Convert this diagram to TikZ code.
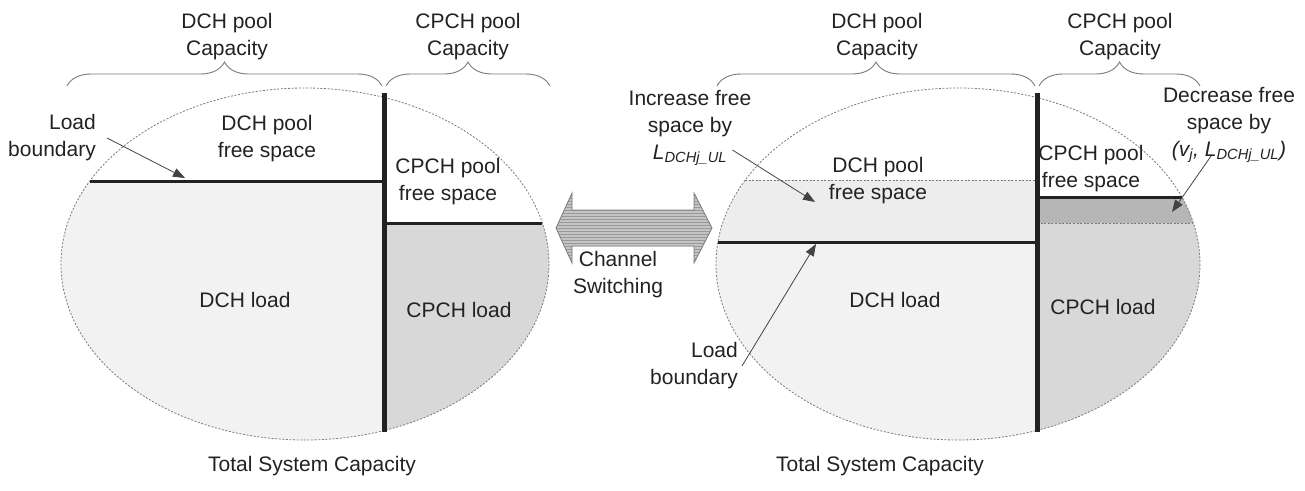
\documentclass[tikz,border=0pt]{standalone}
\usepackage{fontspec}
\setmainfont{Liberation Sans}
\usepackage{tikz}
\usetikzlibrary{arrows.meta,decorations.pathreplacing,patterns}
\definecolor{ink}   {HTML}{222222}
\definecolor{rim}   {HTML}{7A7A7A}
\definecolor{loadlt}{HTML}{F2F2F2}
\definecolor{loadmd}{HTML}{D8D8D8}
\definecolor{band}  {HTML}{B6B6B6}
\definecolor{gain}  {HTML}{EDEDED}
\definecolor{shaft} {HTML}{C4C4C4}

\begin{document}
\begin{tikzpicture}[x=1pt,y=-1pt,font=\fontsize{21}{27}\selectfont,
  lbl/.style={align=center,text=ink,inner sep=1pt},
  edge/.style={draw=rim,line width=0.8pt,dash pattern=on 2pt off 1.6pt},
  wall/.style={draw=ink,line width=5pt},
  bound/.style={draw=ink,line width=3pt},
  curly/.style={draw=rim,line width=0.9pt,decorate,
                decoration={brace,amplitude=24pt}},
  ptr/.style={draw=ink!85,line width=0.8pt,-{Triangle[length=12pt,width=9pt]}}]
  \useasboundingbox (0,0) rectangle (1305,490);

  % left pool
  \begin{scope}
    \clip (305,264) ellipse [x radius=244,y radius=176];
    \fill[loadlt] (0,181) rectangle (384,460);
    \fill[loadmd] (384,223) rectangle (600,460);
  \end{scope}
  \draw[edge] (305,264) ellipse [x radius=244,y radius=176];
  \draw[bound] (90,181) -- (384,181);
  \draw[bound] (384,223) -- (542,223);
  \draw[wall] (384,93) -- (384,432);
  \draw[curly] (67,86) -- (382,86);
  \draw[curly] (386,86) -- (550,86);

  \node[lbl] (capDL) at (227,37) {DCH pool\\Capacity};
  \node[lbl] (capCL) at (468,37) {CPCH pool\\Capacity};
  \node[lbl] (freeDL) at (267,139) {DCH pool\\free space};
  \node[lbl] (freeCL) at (448,182) {CPCH pool\\free space};
  \node[lbl] (loadDL) at (245,300) {DCH load};
  \node[lbl] (loadCL) at (459,310) {CPCH load};
  \node[lbl] (totL) at (312,466) {Total System Capacity};
  \node[lbl,align=right,anchor=east] (lbL) at (97,138) {Load\\boundary};
  \coordinate (lbLtip) at (185,178);
  \draw[ptr] ([xshift=10pt]lbL.east) -- (lbLtip);

  % channel switching
  \draw[draw=rim,line width=0.8pt,preaction={fill=shaft},
        pattern=horizontal lines,pattern color=black!40]
    (556,228) -- (572,193) -- (572,210) -- (694,210) -- (694,193)
    -- (712,228) -- (694,263) -- (694,246) -- (572,246) -- (572,263) -- cycle;
  \node[lbl] (sw) at (618,275) {Channel\\Switching};

  % right pool
  \begin{scope}
    \clip (958,264) ellipse [x radius=242,y radius=176];
    \fill[gain] (700,180) rectangle (1037,242);
    \fill[loadlt] (700,242) rectangle (1037,460);
    \fill[band] (1037,197) rectangle (1210,223);
    \fill[loadmd] (1037,223) rectangle (1210,460);
  \end{scope}
  \draw[edge] (958,264) ellipse [x radius=242,y radius=176];
  \draw[edge] (745,180) -- (1037,180);
  \draw[edge] (1037,223) -- (1193,223);
  \draw[bound] (718,242) -- (1037,242);
  \draw[bound] (1037,197) -- (1182,197);
  \draw[wall] (1037,93) -- (1037,432);
  \draw[curly] (717,86) -- (1035,86);
  \draw[curly] (1039,86) -- (1200,86);

  \node[lbl] (capDR) at (877,37) {DCH pool\\Capacity};
  \node[lbl] (capCR) at (1120,37) {CPCH pool\\Capacity};
  \node[lbl] (freeDR) at (878,181) {DCH pool\\free space};
  \node[lbl] (freeCR) at (1091,169) {CPCH pool\\free space};
  \node[lbl] (loadDR) at (895,300) {DCH load};
  \node[lbl] (loadCR) at (1103,307) {CPCH load};
  \node[lbl] (totR) at (880,466) {Total System Capacity};
  \node[lbl] (incL) at (690,128)
    {Increase free\\space by\\\textit{L\textsubscript{DCHj\_UL}}};
  \node[lbl] (decL) at (1229,125)
    {Decrease free\\space by\\\textit{(v\textsubscript{j}, L\textsubscript{DCHj\_UL})}};
  \node[lbl,align=right,anchor=east] (lbR) at (739,366) {Load\\boundary};
  \coordinate (incTip) at (815,202);
  \coordinate (decTip) at (1172,212);
  \coordinate (lbRtip) at (816,244);
  \draw[ptr] ([xshift=-20pt,yshift=-22pt]incL.east) -- (incTip);
  \draw[ptr] ([xshift=-18pt,yshift=8pt]decL.south) -- (decTip);
  \draw[ptr] ([xshift=3pt]lbR.east) -- (lbRtip);
\end{tikzpicture}
\end{document}
